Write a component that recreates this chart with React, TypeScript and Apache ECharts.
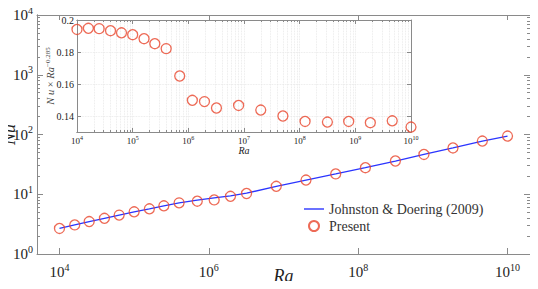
import React, { useEffect, useRef } from "react";
import * as echarts from "echarts";

const RA = [1e4, 1.6e4, 2.5e4, 4e4, 6.3e4, 1e5, 1.6e5, 2.5e5, 4e5, 7e5, 1.18e6, 1.95e6, 3.2e6, 8e6, 2e7, 5e7, 1.25e8, 3.15e8, 7.6e8, 1.86e9, 4.6e9, 1e10];
const NU_PRESENT = [2.68, 3.07, 3.49, 3.96, 4.48, 5.08, 5.71, 6.41, 7.18, 7.66, 8.04, 9.25, 10.3, 13.6, 17.3, 21.9, 27.8, 36.0, 46.4, 59.6, 77.6, 94.2];
const NU_JD = [2.68, 3.07, 3.49, 3.96, 4.48, 5.08, 5.71, 6.41, 7.18, 8.0, 8.7, 9.4, 10.4, 13.6, 17.3, 21.9, 27.8, 36.0, 46.4, 59.6, 77.6, 94.2];
const COMPENSATED = [0.1941, 0.1948, 0.1946, 0.1933, 0.192, 0.1908, 0.1883, 0.1852, 0.1821, 0.165, 0.1498, 0.149, 0.145, 0.1466, 0.1437, 0.14, 0.1366, 0.1362, 0.1366, 0.1358, 0.137, 0.1331];

const MAIN_X_TICKS = [1e4, 1e6, 1e8, 1e10];
const MAIN_Y_TICKS = [1, 10, 100, 1000, 10000];
const INSET_X_TICKS = [1e4, 1e5, 1e6, 1e7, 1e8, 1e9, 1e10];
const INSET_Y_TICKS = [0.14, 0.16, 0.18, 0.2];
const MINOR_MULTS = [2, 3, 4, 5, 6, 7, 8, 9];

const FONT = "Liberation Serif";
const AXIS_COLOR = "#8a8a8a";
const TEXT_COLOR = "#222";
const RED = "#E8452C";
const BLUE = "#2B35FF";

function minorOf(decades: number[]) {
  const out: number[] = [];
  for (let i = 0; i < decades.length - 1; i++) {
    for (const m of MINOR_MULTS) out.push(decades[i] * m);
  }
  return out;
}

const MAIN_Y_MINOR = minorOf(MAIN_Y_TICKS);
const INSET_X_ALL = [...INSET_X_TICKS, ...minorOf(INSET_X_TICKS)];

const powLabel = (v: number) => `{b|10}{s|${Math.round(Math.log10(v))}}`;

export default function App() {
  const ref = useRef<HTMLDivElement>(null);
  useEffect(() => {
    if (!ref.current) return;
    const chart = echarts.init(ref.current, null, { renderer: "svg" });

    const bigRich = {
      b: { fontFamily: FONT, fontSize: 15, color: TEXT_COLOR },
      s: { fontFamily: FONT, fontSize: 10, color: TEXT_COLOR, padding: [0, 0, 10, 0] },
    };
    const smallRich = {
      b: { fontFamily: FONT, fontSize: 9, color: TEXT_COLOR },
      s: { fontFamily: FONT, fontSize: 6, color: TEXT_COLOR, padding: [0, 0, 6, 0] },
    };
    const line = { show: true, lineStyle: { color: AXIS_COLOR, width: 1 } };
    const grid = { color: "#e4e4e4", type: "dotted", width: 0.8 };

    const logAxis = (o: any) => ({
      type: "log",
      logBase: 10,
      axisLine: line,
      splitLine: { show: false },
      nameMoveOverlap: false,
      ...o,
    });

    const option: any = {
      animation: false,
      backgroundColor: "#fff",
      grid: [
        { left: 37, top: 15, width: 493, height: 239, show: false, outerBoundsMode: "none", containLabel: false },
        { left: 77, top: 20, width: 334, height: 112, show: true, backgroundColor: "#fff", borderWidth: 0, z: 5, outerBoundsMode: "none", containLabel: false },
      ],
      legend: {
        left: 299,
        top: 197,
        orient: "vertical",
        itemWidth: 20,
        itemHeight: 10,
        itemGap: 3,
        data: [
          { name: "Johnston & Doering (2009)", icon: "path://M0 0H20V1.4H0Z" },
          { name: "Present" },
        ],
        textStyle: { fontFamily: FONT, fontSize: 14, color: "#333" },
      },
      xAxis: [
        logAxis({
          gridIndex: 0, min: 5000, max: 2e10, position: "bottom",
          axisTick: { inside: true, length: 6, customValues: MAIN_X_TICKS, lineStyle: { color: AXIS_COLOR } },
          axisLabel: { customValues: MAIN_X_TICKS, formatter: powLabel, rich: bigRich, margin: 8 },
          name: "Ra", nameLocation: "middle", nameGap: 13,
          nameTextStyle: { fontFamily: FONT, fontStyle: "italic", fontSize: 18, color: TEXT_COLOR },
        }),
        logAxis({
          gridIndex: 0, min: 5000, max: 2e10, position: "top",
          axisTick: { inside: true, length: 5, customValues: MAIN_X_TICKS, lineStyle: { color: AXIS_COLOR } },
          axisLabel: { show: false },
        }),
        logAxis({
          gridIndex: 1, min: 1e4, max: 1e10, position: "bottom", z: 6,
          axisTick: { inside: true, length: 4, customValues: INSET_X_TICKS, lineStyle: { color: AXIS_COLOR } },
          axisLabel: { customValues: INSET_X_TICKS, formatter: powLabel, rich: smallRich, margin: 3 },
          name: "Ra", nameLocation: "middle", nameGap: 13,
          nameTextStyle: { fontFamily: FONT, fontStyle: "italic", fontSize: 10, color: TEXT_COLOR },
        }),
        logAxis({
          gridIndex: 1, min: 1e4, max: 1e10, position: "bottom", z: 6,
          axisTick: { inside: true, length: 2, customValues: INSET_X_ALL, lineStyle: { color: AXIS_COLOR } },
          axisLabel: { show: false },
          splitLine: { show: true, lineStyle: grid },
        }),
        logAxis({
          gridIndex: 1, min: 1e4, max: 1e10, position: "top", z: 6,
          axisTick: { inside: true, length: 4, customValues: INSET_X_TICKS, lineStyle: { color: AXIS_COLOR } },
          axisLabel: { show: false },
        }),
        logAxis({
          gridIndex: 1, min: 1e4, max: 1e10, position: "top", z: 6,
          axisTick: { inside: true, length: 2, customValues: INSET_X_ALL, lineStyle: { color: AXIS_COLOR } },
          axisLabel: { show: false },
        }),
      ],
      yAxis: [
        logAxis({
          gridIndex: 0, min: 1, max: 1e4, position: "left",
          axisTick: { inside: true, length: 6, customValues: MAIN_Y_TICKS, lineStyle: { color: AXIS_COLOR } },
          axisLabel: { customValues: MAIN_Y_TICKS, formatter: powLabel, rich: bigRich, margin: 4 },
          name: "Nu", nameLocation: "middle", nameGap: 19, nameRotate: 90,
          nameTextStyle: { fontFamily: FONT, fontStyle: "italic", fontSize: 18, color: TEXT_COLOR },
        }),
        logAxis({
          gridIndex: 0, min: 1, max: 1e4, position: "left",
          axisTick: { inside: true, length: 3, customValues: MAIN_Y_MINOR, lineStyle: { color: AXIS_COLOR } },
          axisLabel: { show: false },
        }),
        logAxis({
          gridIndex: 0, min: 1, max: 1e4, position: "right",
          axisTick: { inside: true, length: 6, customValues: MAIN_Y_TICKS, lineStyle: { color: AXIS_COLOR } },
          axisLabel: { show: false },
        }),
        logAxis({
          gridIndex: 0, min: 1, max: 1e4, position: "right",
          axisTick: { inside: true, length: 3, customValues: MAIN_Y_MINOR, lineStyle: { color: AXIS_COLOR } },
          axisLabel: { show: false },
        }),
        {
          type: "value", gridIndex: 1, min: 0.13, max: 0.2, position: "left", z: 6,
          axisLine: line,
          nameMoveOverlap: false,
          axisTick: { inside: true, length: 4, customValues: INSET_Y_TICKS, lineStyle: { color: AXIS_COLOR } },
          axisLabel: {
            customValues: INSET_Y_TICKS, margin: 3,
            formatter: (v: number) => String(Math.round(v * 100) / 100),
            fontFamily: FONT, fontSize: 10, color: TEXT_COLOR,
          },
          splitLine: { show: true, lineStyle: grid },
          name: "{i|N u} × {i|Ra}{s|−0.285}",
          nameLocation: "middle", nameGap: 20, nameRotate: 90,
          nameTextStyle: {
            fontFamily: FONT, fontSize: 10.5, color: "#444",
            rich: {
              i: { fontFamily: FONT, fontStyle: "italic", fontSize: 10.5, color: "#444" },
              s: { fontFamily: FONT, fontSize: 7, color: "#444", padding: [0, 0, 6, 0] },
            },
          },
        },
        {
          type: "value", gridIndex: 1, min: 0.13, max: 0.2, position: "right", z: 6,
          axisLine: line,
          axisTick: { inside: true, length: 4, customValues: INSET_Y_TICKS, lineStyle: { color: AXIS_COLOR } },
          axisLabel: { show: false },
          splitLine: { show: false },
        },
      ],
      series: [
        {
          name: "Johnston & Doering (2009)",
          type: "line",
          xAxisIndex: 0, yAxisIndex: 0,
          data: RA.map((r, i) => [r, NU_JD[i]]),
          symbol: "none",
          lineStyle: { color: BLUE, width: 1.3 },
          itemStyle: { color: BLUE },
          z: 2,
        },
        {
          name: "Present",
          type: "scatter",
          xAxisIndex: 0, yAxisIndex: 0,
          data: RA.map((r, i) => [r, NU_PRESENT[i]]),
          symbol: "circle",
          symbolSize: 10,
          itemStyle: { color: "rgba(255,255,255,0)", borderColor: RED, borderWidth: 1.3 },
          z: 3,
        },
        {
          name: "Present inset",
          type: "scatter",
          xAxisIndex: 2, yAxisIndex: 4,
          data: RA.map((r, i) => [r, COMPENSATED[i]]),
          symbol: "circle",
          symbolSize: 10,
          itemStyle: { color: "rgba(255,255,255,0)", borderColor: RED, borderWidth: 1.3 },
          z: 7,
        },
      ],
    };
    chart.setOption(option);
    return () => chart.dispose();
  }, []);
  return <div ref={ref} style={{ width: 538, height: 289, margin: -8 }} />;
}
